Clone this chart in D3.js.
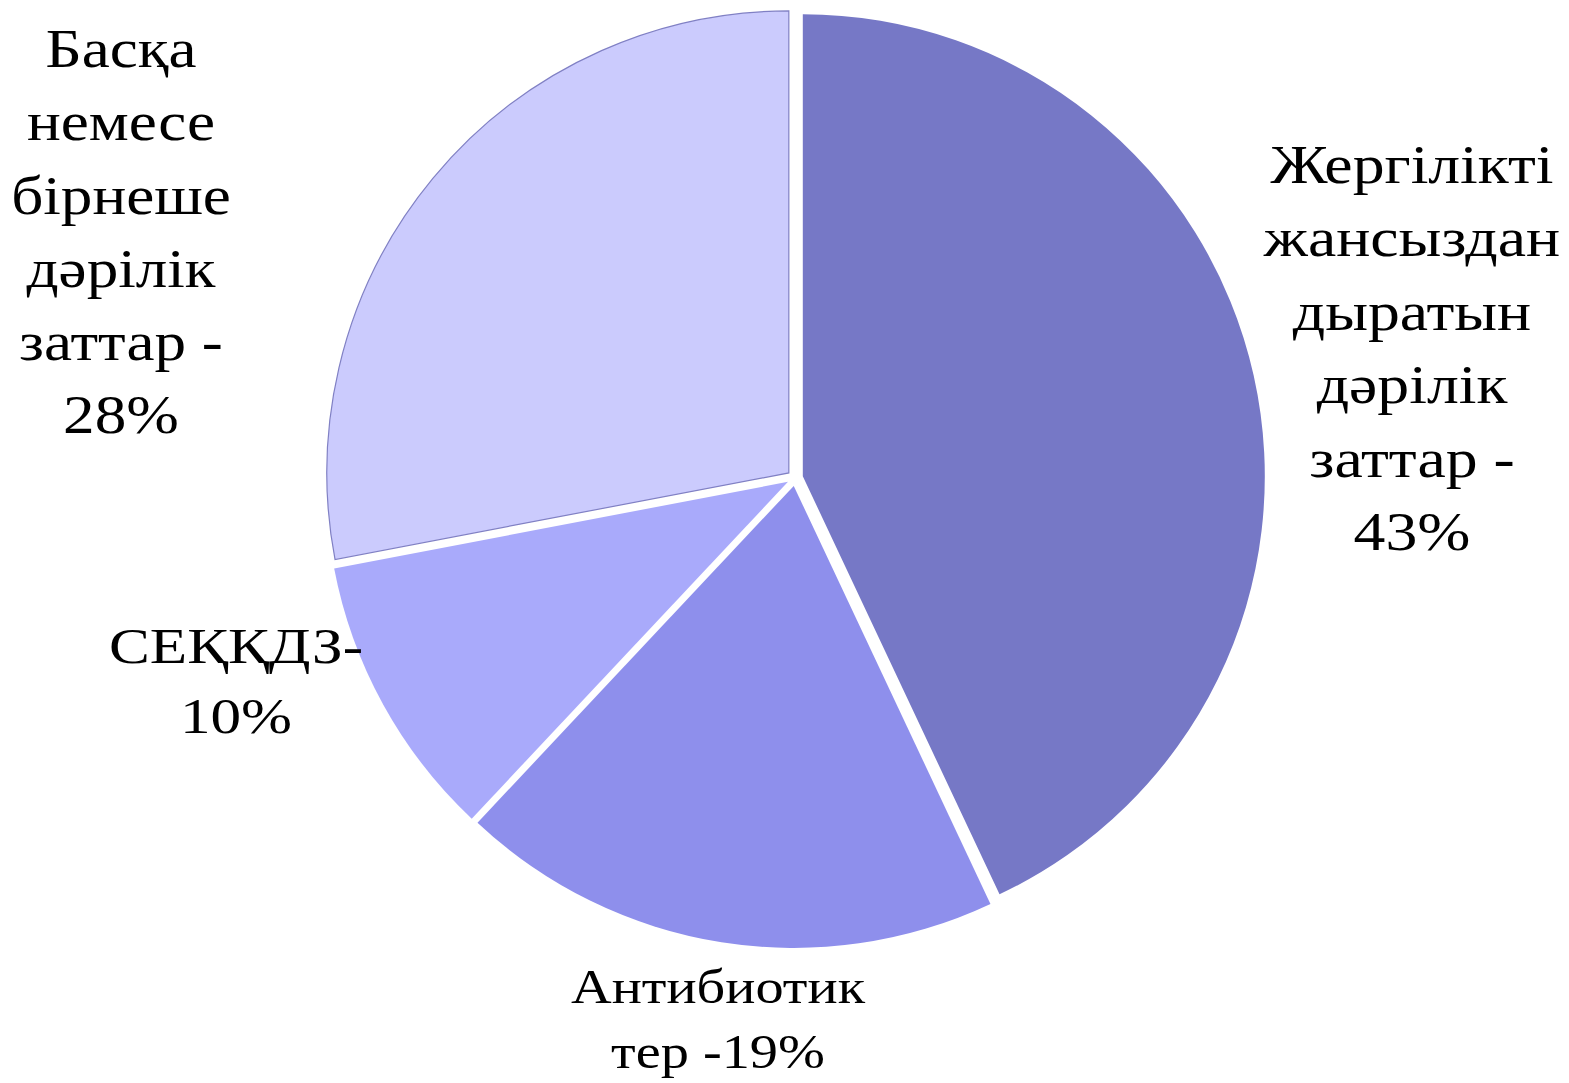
<!DOCTYPE html>
<html>
<head>
<meta charset="utf-8">
<script src="https://cdn.jsdelivr.net/npm/d3@7"></script>
<style>
  html, body { margin: 0; padding: 0; background: #ffffff; }
  svg { display: block; }
</style>
</head>
<body>
<svg id="chart" width="1569" height="1083"></svg>
<script>
// ---- data ----
const categories = [
  "Жергілікті жансыздандыратын дәрілік заттар",
  "Антибиотиктер",
  "СЕҚҚДЗ",
  "Басқа немесе бірнеше дәрілік заттар"
];
const values = [43, 19, 10, 28];
const labelLines = [
  ["Жергілікті", "жансыздан", "дыратын", "дәрілік", "заттар -", "43%"],
  ["Антибиотик", "тер -19%"],
  ["СЕҚҚДЗ-", "10%"],
  ["Басқа", "немесе", "бірнеше", "дәрілік", "заттар -", "28%"]
];
const colors = ["#7678c6", "#8e8fec", "#a9aafb", "#cbcbfd"];

// ---- layout ----
const svg = d3.select("#chart");
const cx = 795, cy = 478, R = 462, explode = 8;
const labelLayout = [
  { x: 1412, y: 183, lh: 73.4, size: 54, sx: 1.18 },
  { x: 718, y: 1003, lh: 65, size: 49, sx: 1.15 },
  { x: 236, y: 663, lh: 70, size: 51, sx: 1.2 },
  { x: 121, y: 67, lh: 73.3, size: 54, sx: 1.17 }
];

const pie = d3.pie().sort(null).value(d => d)(values);
const arc = d3.arc().innerRadius(0).outerRadius(R);

const g = svg.append("g").attr("transform", `translate(${cx},${cy})`);
g.selectAll("path.slice")
  .data(pie)
  .join("path")
  .attr("class", "slice")
  .attr("transform", d => {
    const a = (d.startAngle + d.endAngle) / 2;
    return `translate(${Math.sin(a) * explode},${-Math.cos(a) * explode})`;
  })
  .attr("d", arc)
  .attr("fill", (d, i) => colors[i])
  .attr("stroke", (d, i) => i === 3 ? "#8080c4" : "none")
  .attr("stroke-width", 1.2);

const labels = svg.selectAll("text.lbl")
  .data(labelLines)
  .join("text")
  .attr("class", "lbl")
  .attr("text-anchor", "middle")
  .attr("font-family", "'Liberation Serif', 'Times New Roman', serif")
  .attr("fill", "#000")
  .attr("font-size", (d, i) => labelLayout[i].size)
  .attr("transform", (d, i) => `translate(${labelLayout[i].x},0) scale(${labelLayout[i].sx},1)`);

labels.each(function(lines, i) {
  const L = labelLayout[i];
  d3.select(this).selectAll("tspan")
    .data(lines)
    .join("tspan")
    .attr("x", 0)
    .attr("y", (t, j) => L.y + j * L.lh)
    .text(t => t);
});
</script>
</body>
</html>
